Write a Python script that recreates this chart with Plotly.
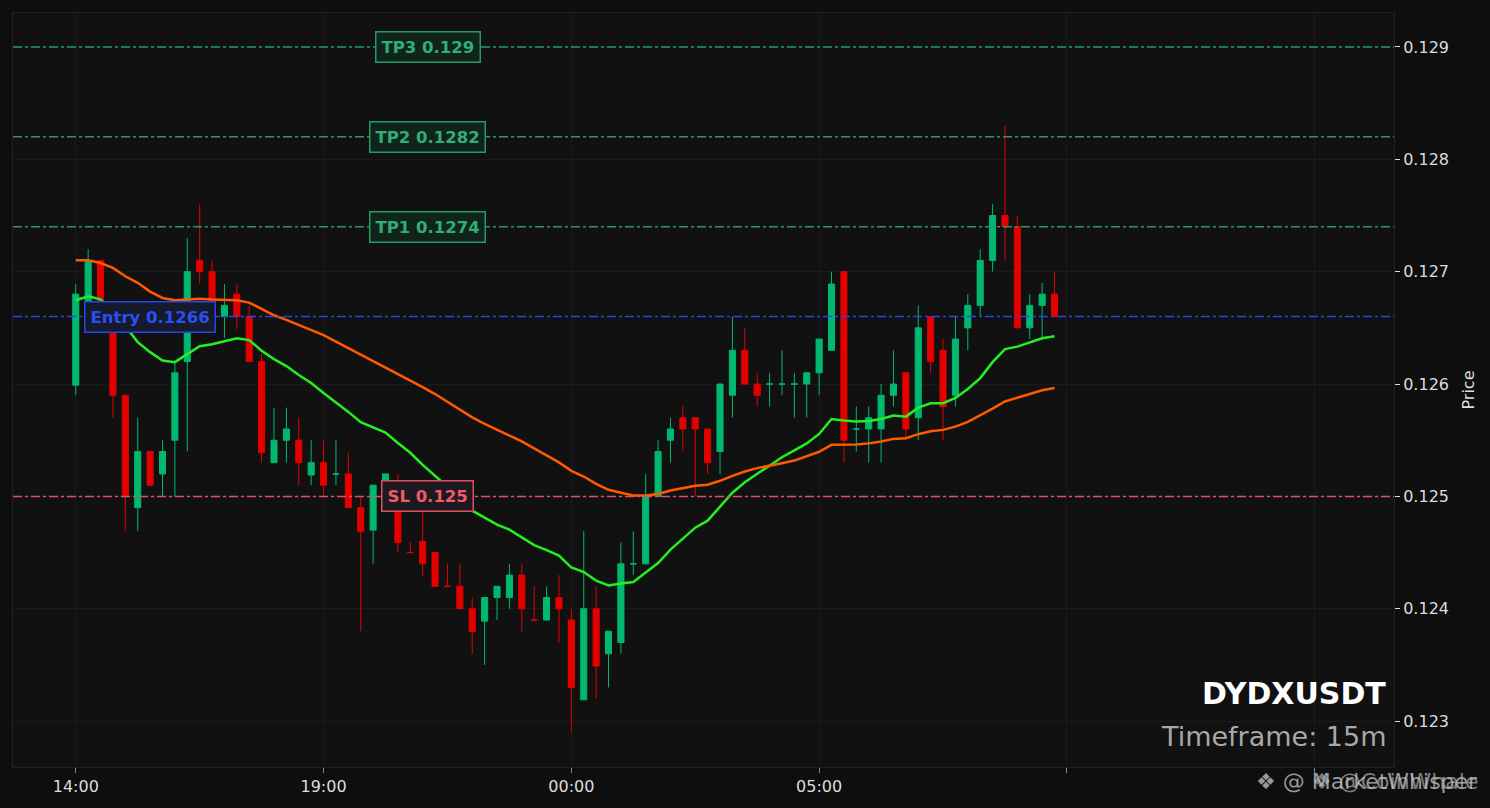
import plotly.graph_objects as go
import pandas as pd

# ---- data (15m candles) ----
times = pd.date_range("2024-05-20 14:00", periods=80, freq="15min")

opens = [0.12599, 0.12665, 0.12710, 0.12660, 0.12590, 0.12490, 0.12540, 0.12520, 0.12550, 0.12620,
         0.12710, 0.12700, 0.12660, 0.12680, 0.12660, 0.12620, 0.12530, 0.12550, 0.12550, 0.12519,
         0.12530, 0.12520, 0.12520, 0.12490, 0.12470, 0.12510, 0.12495, 0.12450, 0.12460, 0.12450,
         0.12420, 0.12420, 0.12400, 0.12389, 0.12410, 0.12410, 0.12430, 0.12390, 0.12390, 0.12410,
         0.12390, 0.12319, 0.12400, 0.12360, 0.12370, 0.12440, 0.12440, 0.12500, 0.12550, 0.12570,
         0.12570, 0.12560, 0.12540, 0.12590, 0.12630, 0.12600, 0.12600, 0.12600, 0.12600, 0.12600,
         0.12610, 0.12630, 0.12700, 0.12560, 0.12560, 0.12560, 0.12590, 0.12610, 0.12570, 0.12660,
         0.12630, 0.12590, 0.12650, 0.12670, 0.12710, 0.12750, 0.12740, 0.12650, 0.12670, 0.12680]
highs = [0.12689, 0.12720, 0.12710, 0.12660, 0.12590, 0.12570, 0.12540, 0.12550, 0.12620, 0.12730,
         0.12760, 0.12710, 0.12689, 0.12689, 0.12670, 0.12627, 0.12579, 0.12579, 0.12570, 0.12550,
         0.12550, 0.12550, 0.12539, 0.12500, 0.12510, 0.12520, 0.12520, 0.12459, 0.12500, 0.12450,
         0.12440, 0.12440, 0.12410, 0.12410, 0.12420, 0.12440, 0.12440, 0.12420, 0.12420, 0.12430,
         0.12400, 0.12469, 0.12420, 0.12380, 0.12459, 0.12469, 0.12520, 0.12550, 0.12570, 0.12580,
         0.12570, 0.12560, 0.12600, 0.12660, 0.12650, 0.12610, 0.12610, 0.12630, 0.12610, 0.12610,
         0.12640, 0.12700, 0.12700, 0.12580, 0.12580, 0.12600, 0.12630, 0.12610, 0.12670, 0.12660,
         0.12640, 0.12660, 0.12680, 0.12720, 0.12760, 0.12830, 0.12750, 0.12680, 0.12690, 0.12700]
lows = [0.12590, 0.12650, 0.12655, 0.12570, 0.12469, 0.12469, 0.12510, 0.12500, 0.12500, 0.12540,
        0.12689, 0.12650, 0.12641, 0.12649, 0.12620, 0.12530, 0.12530, 0.12530, 0.12510, 0.12510,
        0.12500, 0.12510, 0.12490, 0.12380, 0.12440, 0.12510, 0.12450, 0.12450, 0.12429, 0.12420,
        0.12420, 0.12400, 0.12360, 0.12350, 0.12390, 0.12400, 0.12380, 0.12390, 0.12390, 0.12370,
        0.12290, 0.12319, 0.12320, 0.12330, 0.12360, 0.12430, 0.12440, 0.12500, 0.12530, 0.12540,
        0.12500, 0.12520, 0.12520, 0.12570, 0.12600, 0.12580, 0.12580, 0.12590, 0.12570, 0.12570,
        0.12590, 0.12630, 0.12530, 0.12540, 0.12530, 0.12530, 0.12580, 0.12550, 0.12550, 0.12610,
        0.12550, 0.12580, 0.12630, 0.12660, 0.12700, 0.12710, 0.12650, 0.12640, 0.12640, 0.12660]
closes = [0.12680, 0.12710, 0.12660, 0.12590, 0.12500, 0.12540, 0.12510, 0.12540, 0.12610, 0.12700,
          0.12700, 0.12660, 0.12670, 0.12660, 0.12620, 0.12539, 0.12550, 0.12560, 0.12530, 0.12530,
          0.12510, 0.12520, 0.12490, 0.12469, 0.12510, 0.12520, 0.12459, 0.12450, 0.12440, 0.12420,
          0.12420, 0.12400, 0.12380, 0.12410, 0.12420, 0.12430, 0.12400, 0.12390, 0.12410, 0.12400,
          0.12330, 0.12400, 0.12349, 0.12380, 0.12440, 0.12440, 0.12500, 0.12540, 0.12560, 0.12560,
          0.12560, 0.12530, 0.12600, 0.12630, 0.12600, 0.12590, 0.12600, 0.12600, 0.12600, 0.12610,
          0.12640, 0.12689, 0.12550, 0.12560, 0.12570, 0.12590, 0.12600, 0.12560, 0.12650, 0.12620,
          0.12580, 0.12640, 0.12670, 0.12710, 0.12750, 0.12740, 0.12650, 0.12670, 0.12680, 0.12660]

ema_fast = [0.126746, 0.126781, 0.126754, 0.126639, 0.126515, 0.126373, 0.126284, 0.126209, 0.126195, 0.126266,
            0.126337, 0.126355, 0.126382, 0.126408, 0.126391, 0.126297, 0.126222, 0.126160, 0.126080, 0.126009,
            0.125920, 0.125840, 0.125752, 0.125660, 0.125614, 0.125568, 0.125476, 0.125388, 0.125281, 0.125183,
            0.125086, 0.124979, 0.124873, 0.124811, 0.124749, 0.124704, 0.124638, 0.124567, 0.124522, 0.124473,
            0.124367, 0.124327, 0.124251, 0.124207, 0.124225, 0.124238, 0.124322, 0.124407, 0.124527, 0.124624,
            0.124722, 0.124784, 0.124908, 0.125033, 0.125126, 0.125201, 0.125277, 0.125349, 0.125410, 0.125472,
            0.125556, 0.125689, 0.125676, 0.125667, 0.125672, 0.125689, 0.125719, 0.125710, 0.125790, 0.125829,
            0.125829, 0.125876, 0.125956, 0.126053, 0.126195, 0.126311, 0.126333, 0.126370, 0.126408, 0.126426]
ema_slow = [0.127101, 0.127101, 0.127077, 0.127034, 0.126959, 0.126901, 0.126823, 0.126766, 0.126746, 0.126752,
            0.126760, 0.126753, 0.126752, 0.126746, 0.126725, 0.126666, 0.126612, 0.126571, 0.126524, 0.126479,
            0.126435, 0.126377, 0.126320, 0.126262, 0.126204, 0.126146, 0.126089, 0.126031, 0.125973, 0.125911,
            0.125840, 0.125769, 0.125703, 0.125645, 0.125592, 0.125543, 0.125490, 0.125428, 0.125365, 0.125303,
            0.125228, 0.125177, 0.125112, 0.125059, 0.125033, 0.125009, 0.125009, 0.125021, 0.125053, 0.125074,
            0.125095, 0.125104, 0.125139, 0.125183, 0.125222, 0.125252, 0.125272, 0.125296, 0.125319, 0.125355,
            0.125397, 0.125459, 0.125459, 0.125463, 0.125472, 0.125488, 0.125512, 0.125518, 0.125554, 0.125580,
            0.125592, 0.125621, 0.125663, 0.125719, 0.125781, 0.125845, 0.125876, 0.125909, 0.125944, 0.125965]

level_names = ["TP3", "TP2", "TP1", "Entry", "SL"]
level_values = [0.129, 0.1282, 0.1274, 0.1266, 0.125]

y_ticks = [0.123, 0.124, 0.125, 0.126, 0.127, 0.128, 0.129]
x_tick_vals = ["2024-05-20 14:00", "2024-05-20 19:00", "2024-05-21 00:00",
               "2024-05-21 05:00", "2024-05-21 10:00", "2024-05-21 15:00"]
x_tick_text = ["14:00", "19:00", "00:00", "05:00", "", ""]

symbol = "DYDXUSDT"
timeframe = "Timeframe: 15m"
watermark_a = "❖ @ MarketWhisper"
watermark_b = "❖ @CoinWhale"

# ---- styles ----
FONT = "DejaVu Sans"
level_styles = {
    "TP3": dict(line="#239a68", text="#2fae78", bg="#10241b", lx="2024-05-20 21:06"),
    "TP2": dict(line="#239a68", text="#2fae78", bg="#10241b", lx="2024-05-20 21:06"),
    "TP1": dict(line="#239a68", text="#2fae78", bg="#10241b", lx="2024-05-20 21:06"),
    "Entry": dict(line="#2546e8", text="#2d4ff2", bg="#151a2c", lx="2024-05-20 15:30"),
    "SL": dict(line="#e0505f", text="#f05a6a", bg="#1c1a20", lx="2024-05-20 21:06"),
}

fig = go.Figure()
fig.add_trace(go.Candlestick(
    x=times, open=opens, high=highs, low=lows, close=closes,
    increasing=dict(line=dict(color="#00b870", width=1), fillcolor="#00b870"),
    decreasing=dict(line=dict(color="#e50000", width=1), fillcolor="#e50000"),
    whiskerwidth=0, showlegend=False, hoverinfo="skip"))
fig.add_trace(go.Scatter(x=times, y=ema_fast, mode="lines",
                         line=dict(color="#22f022", width=2.5), showlegend=False))
fig.add_trace(go.Scatter(x=times, y=ema_slow, mode="lines",
                         line=dict(color="#ff5a00", width=2.5), showlegend=False))

shapes = []
annotations = []
for name, val in zip(level_names, level_values):
    st = level_styles[name]
    shapes.append(dict(type="line", xref="paper", x0=0, x1=1, yref="y", y0=val, y1=val,
                       line=dict(color=st["line"], width=1.5, dash="dashdot"), layer="above"))
    annotations.append(dict(x=st["lx"], y=val, xref="x", yref="y",
                            text=f"<b>{name} {val:g}</b>", showarrow=False,
                            font=dict(family=FONT, size=16.5, color=st["text"]),
                            bgcolor=st["bg"], bordercolor=st["line"], borderwidth=1.5,
                            borderpad=5, xanchor="center", yanchor="middle"))

annotations.append(dict(x=0.9957, y=0.098, xref="paper", yref="paper", text=f"<b>{symbol}</b>",
                        showarrow=False, xanchor="right", yanchor="middle",
                        font=dict(family=FONT, size=30, color="#ffffff")))
annotations.append(dict(x=0.9957, y=0.041, xref="paper", yref="paper", text=timeframe,
                        showarrow=False, xanchor="right", yanchor="middle",
                        font=dict(family=FONT, size=27, color="#a8a8a8")))
# watermarks (two overlapping, as in the reference)
annotations.append(dict(x=1.062, y=-0.019, xref="paper", yref="paper", text=watermark_a,
                        showarrow=False, xanchor="right", yanchor="middle",
                        font=dict(family=FONT, size=22, color="rgba(200,200,200,0.75)")))
annotations.append(dict(x=1.062, y=-0.019, xref="paper", yref="paper", text=watermark_b,
                        showarrow=False, xanchor="right", yanchor="middle",
                        font=dict(family=FONT, size=22, color="rgba(200,200,200,0.6)")))

fig.update_layout(
    width=1490, height=808,
    margin=dict(l=12, r=96, t=12, b=40),
    paper_bgcolor="#0e0e0e", plot_bgcolor="#111111",
    font=dict(family=FONT, size=16, color="#dddddd"),
    shapes=shapes, annotations=annotations, showlegend=False,
    xaxis=dict(
        type="date", range=["2024-05-20 12:44", "2024-05-21 16:36"],
        tickvals=x_tick_vals, ticktext=x_tick_text,
        showgrid=True, gridcolor="#1a1a1a", gridwidth=1,
        ticks="outside", ticklen=5, tickcolor="#888888",
        showline=True, linecolor="#222222", mirror=True,
        rangeslider=dict(visible=False), zeroline=False,
        tickfont=dict(family=FONT, size=16, color="#dddddd")),
    yaxis=dict(
        side="right", range=[0.122592, 0.129302],
        tickvals=y_ticks, tickformat=".3f",
        showgrid=True, gridcolor="#1a1a1a", gridwidth=1,
        ticks="outside", ticklen=5, tickcolor="#dddddd",
        showline=True, linecolor="#222222", mirror=True, zeroline=False,
        title=dict(text="Price", font=dict(family=FONT, size=16, color="#dddddd"), standoff=14),
        tickfont=dict(family=FONT, size=16, color="#dddddd")),
)

fig.write_html(
    "out.html",
    config={"displayModeBar": False},
    post_script="document.body.style.margin='0';document.body.style.background='#0e0e0e';"
                "document.documentElement.style.background='#0e0e0e';",
)
